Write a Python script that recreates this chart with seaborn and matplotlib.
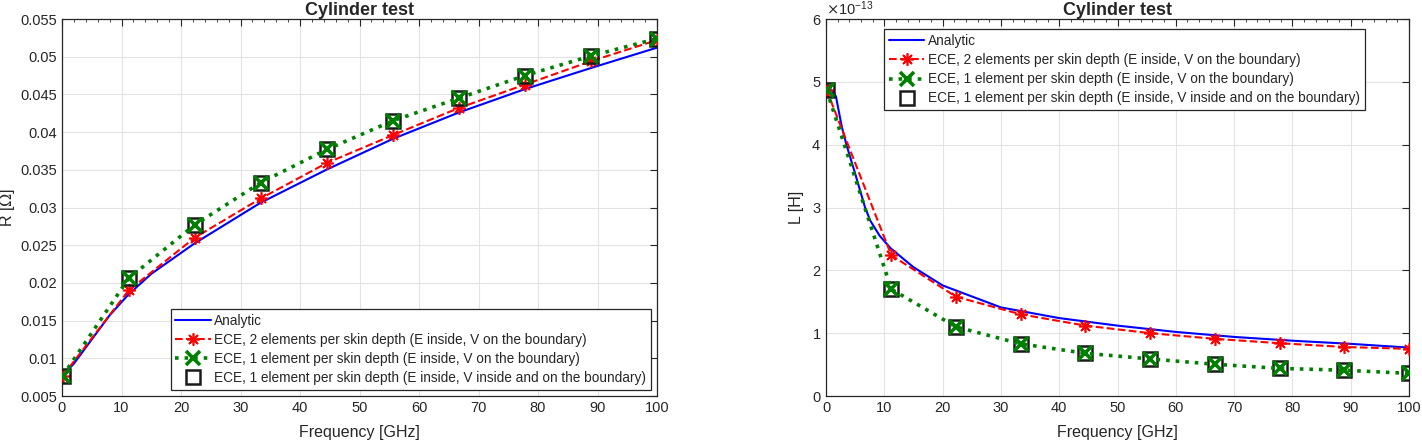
import matplotlib.pyplot as plt
import matplotlib.ticker as mticker
import seaborn as sns
import numpy as np
import pandas as pd

# frequencies of the ECE samples [GHz]
freq = [0.1, 11.2, 22.3, 33.4, 44.5, 55.6, 66.7, 77.8, 88.9, 100]

# analytic curves
freq_an_R = [0.1, 2, 5, 8, 11.1, 15, 22.2, 33.3, 44.4, 55.6, 66.7, 77.8, 88.9, 100]
R_an = [0.0077, 0.0093, 0.0125, 0.0157, 0.0184, 0.0212, 0.0252, 0.0306, 0.0350,
        0.0391, 0.0426, 0.0457, 0.0485, 0.0512]
freq_an_L = [0.1, 1.7, 2.7, 3.5, 5.0, 6.7, 7.6, 9.2, 11.1, 15, 20, 30, 40, 50, 60,
             70, 80, 90, 100]
L_an = [4.97, 4.77, 4.29, 4.00, 3.54, 3.00, 2.79, 2.55, 2.35, 2.05, 1.76, 1.41,
        1.24, 1.12, 1.02, 0.94, 0.88, 0.83, 0.77]

# ECE results
R_2el = [0.00765, 0.0190, 0.0260, 0.0312, 0.0359, 0.0396, 0.0432, 0.0463, 0.0494, 0.0522]
R_1el = [0.00765, 0.0206, 0.0277, 0.0333, 0.0377, 0.0415, 0.0445, 0.0475, 0.0501, 0.0524]
R_1el_b = [0.00765, 0.0206, 0.0277, 0.0333, 0.0377, 0.0415, 0.0445, 0.0475, 0.0501, 0.0524]
L_2el = [4.87, 2.24, 1.58, 1.30, 1.12, 1.00, 0.91, 0.84, 0.78, 0.75]
L_1el = [4.87, 1.70, 1.10, 0.83, 0.68, 0.59, 0.505, 0.44, 0.41, 0.36]
L_1el_b = [4.87, 1.70, 1.10, 0.83, 0.68, 0.59, 0.505, 0.44, 0.41, 0.36]

labels = ["Analytic",
          "ECE, 2 elements per skin depth (E inside, V on the boundary)",
          "ECE, 1 element per skin depth (E inside, V on the boundary)",
          "ECE, 1 element per skin depth (E inside, V inside and on the boundary)"]

sns.set_theme(style="whitegrid")
plt.rcParams['font.family'] = ['Liberation Sans', 'DejaVu Sans']
plt.rcParams['mathtext.fontset'] = 'dejavuserif'

fig = plt.figure(figsize=(14.22, 4.42), dpi=100)
ax1 = fig.add_axes([62 / 1422, 46 / 442, 595 / 1422, 377 / 442])
ax2 = fig.add_axes([826 / 1422, 46 / 442, 583 / 1422, 377 / 442])


def draw(ax, f_an, y_an, y2, y1, y1b, scale):
    sns.lineplot(x=np.array(f_an), y=np.array(y_an) * scale, ax=ax, color='#0000ff',
                 lw=1.5, label=labels[0], zorder=3)
    sns.lineplot(x=np.array(freq), y=np.array(y2) * scale, ax=ax, color='#ff0000',
                 lw=1.5, linestyle='--', marker=(8, 2, 0), markersize=9,
                 mec='#ff0000', mew=1.2, label=labels[1], zorder=4)
    sns.lineplot(x=np.array(freq), y=np.array(y1) * scale, ax=ax, color='#008000',
                 lw=2.6, linestyle=':', marker='x', markersize=10.5,
                 mec='#008000', mew=2.6, label=labels[2], zorder=6)
    sns.lineplot(x=np.array(freq), y=np.array(y1b) * scale, ax=ax, color='k',
                 linestyle='none', marker='s', markersize=9.5, mfc='none',
                 mec='k', mew=1.8, label=labels[3], zorder=5)


draw(ax1, freq_an_R, R_an, R_2el, R_1el, R_1el_b, 1.0)
draw(ax2, freq_an_L, L_an, L_2el, L_1el, L_1el_b, 1e-13)

for ax in (ax1, ax2):
    ax.set_facecolor('white')
    ax.set_xlim(0, 100)
    ax.set_xticks(range(0, 101, 10))
    ax.xaxis.set_minor_locator(mticker.MultipleLocator(2))
    ax.grid(True, which='major', color='#e3e3e3', lw=0.8)
    ax.grid(False, which='minor')
    ax.tick_params(which='both', direction='in', top=True, right=True,
                   color='#262626', labelsize=10.5, labelcolor='#262626')
    ax.tick_params(which='major', length=5, width=0.8)
    ax.tick_params(which='minor', length=2.5, width=0.6)
    for s in ax.spines.values():
        s.set_color('#262626')
        s.set_linewidth(0.9)
    ax.set_xlabel('Frequency [GHz]', fontsize=11.5, color='#262626', labelpad=7)
    ax.set_title('Cylinder test', fontsize=13, fontweight='bold', pad=3)

ax1.set_ylim(0.005, 0.055)
ax1.set_yticks(np.arange(0.005, 0.0551, 0.005))
ax1.yaxis.set_major_formatter(mticker.FuncFormatter(lambda v, p: '%g' % round(v, 4)))
ax1.set_ylabel(r'R [$\Omega$]', fontsize=11.5, color='#262626', labelpad=2)

ax2.set_ylim(0, 6e-13)
ax2.set_yticks(np.arange(0, 6.1e-13, 1e-13))
fmt = mticker.ScalarFormatter(useMathText=True)
fmt.set_powerlimits((0, 0))
ax2.yaxis.set_major_formatter(fmt)
ax2.yaxis.get_offset_text().set_fontsize(10.5)
ax2.set_ylabel('L [H]', fontsize=11.5, color='#262626', labelpad=5)

leg_kw = dict(fontsize=9.8, frameon=True, fancybox=False, framealpha=1,
              edgecolor='#262626', borderaxespad=0, handlelength=2.6,
              handletextpad=0.25, labelspacing=0.38, borderpad=0.35)
l1 = ax1.legend(loc='lower right', bbox_to_anchor=(0.99, 0.016), **leg_kw)
l2 = ax2.legend(loc='upper left', bbox_to_anchor=(0.1, 0.973), **leg_kw)
for l in (l1, l2):
    l.get_frame().set_linewidth(0.9)

fig.savefig('out.png', dpi=100)
